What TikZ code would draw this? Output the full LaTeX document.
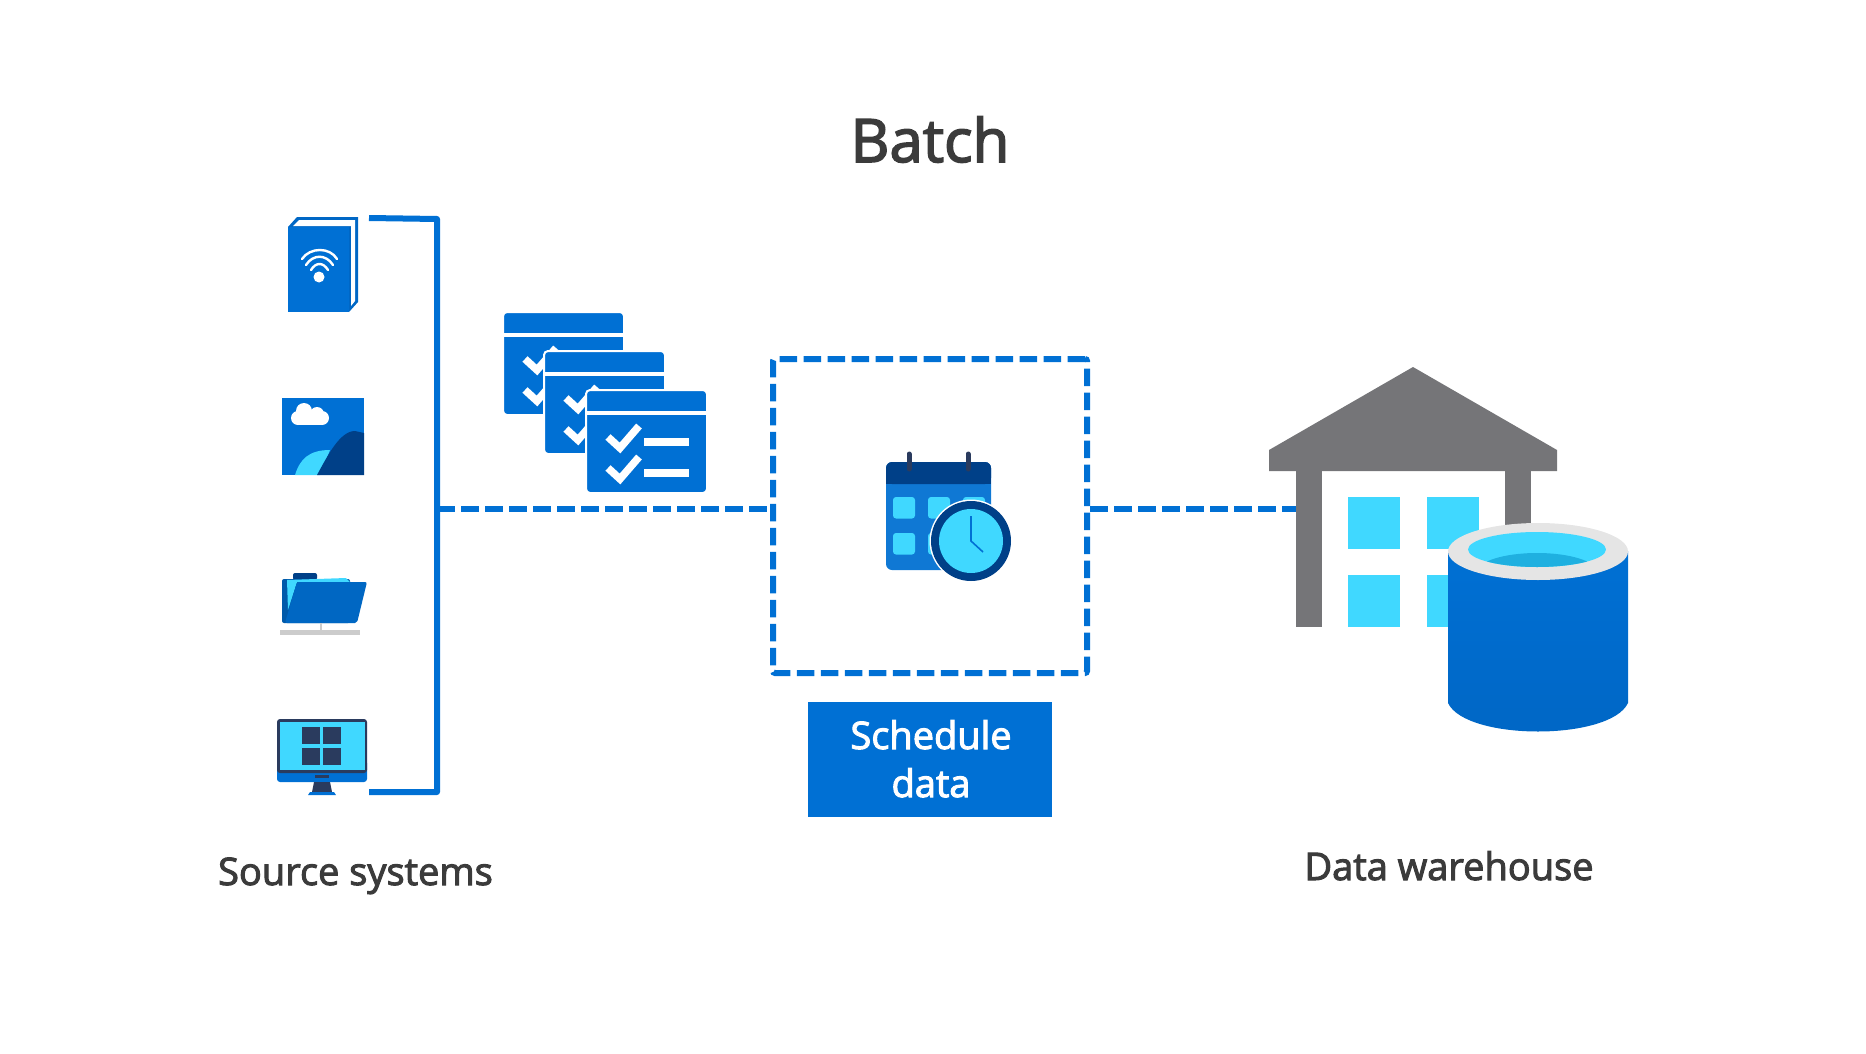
\documentclass[tikz,border=0pt]{standalone}
\usepackage{fontspec}
\setmainfont{Open Sans}
\newfontfamily\labelfont[FakeBold=2.6]{Open Sans}
\definecolor{azblue}{HTML}{0070D4}
\definecolor{azmid}{HTML}{0F78D4}
\definecolor{azdeep}{HTML}{004088}
\definecolor{azsky}{HTML}{40D8FF}
\definecolor{azlake}{HTML}{1FB0E0}
\definecolor{aznavy}{HTML}{2A3B5E}
\definecolor{azgray}{HTML}{757578}
\definecolor{inktext}{HTML}{3B3B3B}
\tikzset{
    wire/.style={azblue,line width=6pt},
    dashwire/.style={wire,dash pattern=on 17.5pt off 6.5pt},
    caption/.style={inktext,anchor=base,inner sep=0pt,font=\labelfont\fontsize{38}{38}\selectfont},
    pane/.style={fill=azsky},
}
\newcommand{\checkcard}[2]{
    \begin{scope}[shift={(#1,#2)}]
    \fill[azblue,draw=white,line width=2pt,rounded corners=4pt] (-1,-1) rectangle (120,102);
    \fill[white] (-1,19.5) rectangle (120,24);
    \draw[white,line width=7.5pt] (21,46) -- (33,57) -- (52,35);
    \draw[white,line width=7.5pt] (21,77) -- (33,88) -- (52,66);
    \fill[white] (57,47) rectangle (102,55);
    \fill[white] (57,78) rectangle (102,86);
    \end{scope}
}
\begin{document}
\begin{tikzpicture}[x=1pt,y=-1pt]
    \useasboundingbox (0,0) rectangle (1866,1054);
    \node[inktext,anchor=base,inner sep=0pt,font=\labelfont\fontsize{60}{60}\selectfont] (title) at (930,162) {Batch};

    % book
    \fill[azblue!80!azdeep] (288,227) -- (297,217) -- (358,217) -- (358,302) -- (349,312) -- cycle;
    \fill[white] (293,226) -- (299,220) -- (355,220) -- (355,301) -- (351,306) -- (351,226) -- cycle;
    \fill[azblue] (288,227) rectangle (349,312);
    \draw[white,line width=2.4pt,line cap=round] (302,259) .. controls (310,247) and (330,247) .. (337,259);
    \draw[white,line width=2.4pt,line cap=round] (306,265) .. controls (313,254) and (326,254) .. (333,265);
    \draw[white,line width=2.4pt,line cap=round] (311,270) .. controls (316,262) and (323,262) .. (328,270);
    \fill[white] (319,277) circle (5.5);

    % picture
    \fill[azblue] (282,398) rectangle (364,475);
    \fill[white] (298,418) circle (7);
    \fill[white] (304,411) circle (8);
    \fill[white] (317,414) circle (7);
    \fill[white] (322,418) circle (7);
    \fill[white] (298,412) rectangle (322,425);
    \fill[azsky] (295,475) .. controls (300,459) and (309,450) .. (330,450) -- (320,475) -- cycle;
    \fill[azdeep] (317,475) .. controls (328,455) and (340,431) .. (355,431) -- (364,433) -- (364,475) -- cycle;

    % folder
    \fill[azdeep,rounded corners=2pt] (293,580) -- (293,573) -- (317,573) -- (317,580) -- cycle;
    \fill[azblue!80!black,rounded corners=2pt] (282,579) rectangle (350,623);
    \fill[azsky] (287,580) -- (346,578) -- (350,582) -- (297,582) -- (288,610) -- cycle;
    \fill[azblue!92!black,rounded corners=2pt] (297,582) -- (367,582) -- (357,623) -- (285,623) -- cycle;
    \fill[black!20] (320,623) rectangle (321.5,630);
    \fill[black!20] (280,630) rectangle (360,635);

    % monitor
    \fill[azblue,rounded corners=3pt] (277,760) rectangle (367,782);
    \fill[aznavy,rounded corners=3pt] (277,719) rectangle (367,773);
    \fill[azsky] (279.5,721.5) rectangle (364.5,770);
    \foreach \px in {302,323} {
    \foreach \py in {727,748} {
    \fill[aznavy] (\px,\py) rectangle (\px+17.5,\py+17);
    }}
    \fill[aznavy] (315,775) rectangle (329,778);
    \fill[aznavy] (314,782) -- (330,782) -- (332,792) -- (312,792) -- cycle;
    \fill[azblue] (308,795) -- (310,792) -- (334,792) -- (336,795) -- cycle;

    % source bracket
    \coordinate (srctop) at (369,218);
    \coordinate (srccorner) at (437,219);
    \coordinate (srcbot) at (369,792);
    \coordinate (srcmid) at (437,509);
    \draw[wire,line join=round] (srctop) -- (srccorner) |- (srcbot);

    % batches
    \foreach \ox/\oy in {504/313,545/352,587/391} {
    \checkcard{\ox}{\oy}
    }

    % schedule
    \node[dashwire,draw,rounded corners=2pt,minimum width=314pt,minimum height=314pt] (schedbox) at (930,516) {};
    \draw[dashwire] (srcmid) -- (schedbox.west |- srcmid);
    \fill[azmid,rounded corners=6pt] (886,462) rectangle (991,570);
    \fill[azdeep,rounded corners=6pt] (886,462) rectangle (991,484);
    \fill[azdeep] (886,476) rectangle (991,484);
    \draw[aznavy,line width=5pt,line cap=round] (909,454) -- (909,469);
    \draw[aznavy,line width=5pt,line cap=round] (968,454) -- (968,469);
    \foreach \cx in {893,928,963} {
    \foreach \cy in {497,533} {
    \fill[azsky,rounded corners=3pt] (\cx,\cy) rectangle (\cx+22,\cy+21.5);
    }}
    \fill[white] (971,541) circle (41.5);
    \fill[azdeep] (971,541) circle (40);
    \fill[azsky] (971,541) circle (32);
    \draw[azblue,line width=1.6pt] (971,516) -- (971,541) -- (983,552);
    \node[azblue,fill,minimum width=244pt,minimum height=115pt,inner sep=0pt] (schedlabel) at (930,759.5) {};
    \node[white,anchor=base,inner sep=0pt,font=\labelfont\fontsize{38}{48}\selectfont] (schedtext) at (931,749) {Schedule};
    \node[white,anchor=base,inner sep=0pt,font=\labelfont\fontsize{38}{48}\selectfont] (datatext) at (931,797) {data};

    % warehouse
    \coordinate (whdoor) at (1296,509);
    \draw[dashwire] (schedbox.east |- whdoor) -- (whdoor);
    \fill[azgray] (1413,367) -- (1557,450) -- (1557,471) -- (1269,471) -- (1269,450) -- cycle;
    \fill[azgray] (1296,471) rectangle (1322,627);
    \fill[azgray] (1505,471) rectangle (1531,560);
    \foreach \wx in {1348,1427} {
    \foreach \wy in {497,575} {
    \fill[pane] (\wx,\wy) rectangle (\wx+52,\wy+52);
    }}

    % cylinder
    \shade[top color=azblue,middle color=azblue,bottom color=azblue!80!azdeep] (1448,551) -- (1628,551) -- (1628,703) .. controls (1610,741) and (1466,741) .. (1448,703) -- cycle;
    \fill[black!10] (1538,551.5) ellipse (90 and 28.5);
    \begin{scope}
    \clip (1537,549.5) ellipse (69 and 17.5);
    \fill[azsky] (1468,530) rectangle (1606,570);
    \fill[azlake] (1537,572) ellipse (60 and 19);
    \end{scope}

    \node[caption] (srclabel) at (355.5,885) {Source systems};
    \node[caption] (whlabel) at (1449,880) {Data warehouse};
\end{tikzpicture}
\end{document}
